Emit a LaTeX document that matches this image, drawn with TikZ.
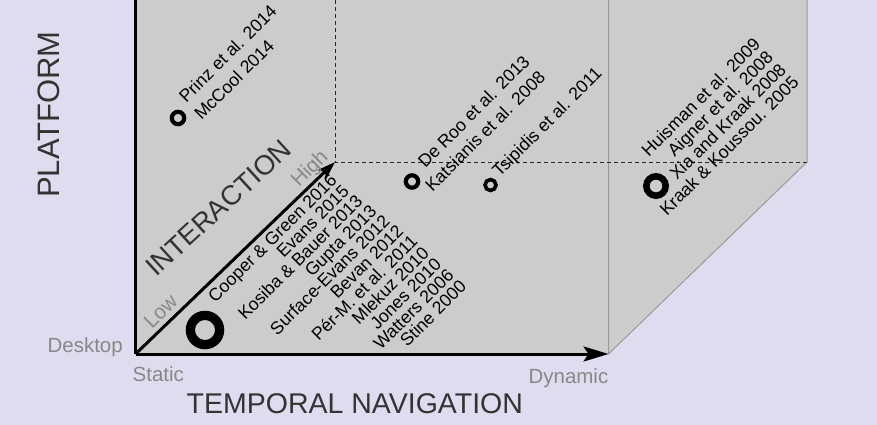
\documentclass[tikz,border=0pt]{standalone}
\usepackage{fontspec}
\setmainfont{Liberation Sans}
\usetikzlibrary{arrows.meta}
\definecolor{bg}{HTML}{DFDCF0}
\definecolor{cubefill}{HTML}{CCCCCC}
\definecolor{edgegray}{HTML}{9A9A9A}
\definecolor{lightlbl}{HTML}{888888}
\definecolor{darklbl}{HTML}{333333}
\begin{document}
\begin{tikzpicture}[x=1pt,y=-1pt,
  ref/.style={inner sep=0pt, rotate=45, font=\fontsize{17.7}{17.7}\selectfont, text=black},
  axislbl/.style={inner sep=0pt, text=darklbl, font=\fontsize{28}{28}\selectfont},
  endlbl/.style={inner sep=0pt, text=lightlbl, font=\fontsize{20.5}{20.5}\selectfont},
  axisline/.style={line width=3pt, black},
  ring/.style={draw=black},
  edgeline/.style={draw=edgegray, line width=1pt},
  guide/.style={draw=black!85, line width=0.8pt, dash pattern=on 4pt off 3pt}]
\useasboundingbox (0,0) rectangle (877,425);
\fill[bg] (0,0) rectangle (877,425);
% frame coordinates
\coordinate (O) at (135.5,354);
\coordinate (TT) at (135.5,0);
\coordinate (Dyn) at (608.5,354);
\coordinate (DynTop) at (608.5,0);
\coordinate (Hi) at (335,162);
\coordinate (HiTop) at (335,0);
\coordinate (HiR) at (807,162);
\coordinate (TopR) at (807,0);
\fill[cubefill] (TT) -- (TopR) -- (HiR) -- (Dyn) -- (O) -- cycle;
\draw[edgeline] (TopR) -- (HiR) -- (Dyn) -- (DynTop);
\draw[guide] (HiTop) -- (Hi) -- (HiR);
\draw[axisline] (TT) -- (O);
\draw[axisline, -{Stealth[length=25pt, width=15pt, inset=5pt]}] (O) -- (Dyn);
\draw[axisline, -{Stealth[length=18pt, width=12pt, inset=4pt]}] (O) -- (Hi);
% axis labels
\node[axislbl, rotate=90, anchor=base west, font=\fontsize{31}{31}\selectfont] (platform) at (59.5,198) {PLATFORM};
\node[axislbl, anchor=base west, font=\fontsize{28.5}{28.5}\selectfont] (temporal) at (186.5,413.5) {TEMPORAL NAVIGATION};
\node[axislbl, rotate=42.5, anchor=base west, font=\fontsize{27.5}{27.5}\selectfont] (interaction) at (156,278) {INTERACTION};
\node[endlbl, anchor=base east] (desktop) at (123,352) {Desktop};
\node[endlbl, anchor=base west] (static) at (132.5,381.5) {Static};
\node[endlbl, anchor=base east] (dynamic) at (608.5,383.3) {Dynamic};
\node[endlbl, rotate=45, anchor=base west] (low) at (152,330) {Low};
\node[endlbl, rotate=45, anchor=base west] (high) at (299,188) {High};
% circles
\draw[ring, line width=9.3pt] (205,330) circle[radius=14.6] coordinate (c0);
\draw[ring, line width=6.5pt] (656,186) circle[radius=9.7] coordinate (c1);
\draw[ring, line width=4.2pt] (178,118) circle[radius=6.2] coordinate (c2);
\draw[ring, line width=4.2pt] (412,181.5) circle[radius=6.2] coordinate (c3);
\draw[ring, line width=3.6pt] (490.5,185) circle[radius=5.5] coordinate (c4);
% Prinz block
\node[ref, anchor=base west] (p1) at (186.2,104.0) {Prinz et al. 2014};
\node[ref, anchor=base west] (p2) at (201.4,121.0) {McCool 2014};
% De Roo block
\node[ref, anchor=base east] (d1) at (531.0,62.9) {De Roo et al. 2013};
\node[ref, anchor=base east] (d2) at (546.6,78.5) {Katsianis et al. 2008};
\node[ref, anchor=base west] (d3) at (499.5,178.0) {Tsipidis et al. 2011};
% Huisman block
\node[ref, anchor=base east] (h1) at (761.5,45.3) {Huisman et al. 2009};
\node[ref, anchor=base east] (h2) at (774.3,58.1) {Aigner et al. 2008};
\node[ref, anchor=base east] (h3) at (787.2,70.9) {Xia and Kraak 2008};
\node[ref, anchor=base east] (h4) at (800.0,83.7) {Kraak \& Koussou. 2005};
% Cooper block
\node[ref, anchor=base east] (k1) at (338.0,181.0) {Cooper \& Green 2016};
\node[ref, anchor=base east] (k2) at (350.2,192.5) {Evans 2015};
\node[ref, anchor=base east] (k3) at (363.7,202.5) {Kosiba \& Bauer 2013};
\node[ref, anchor=base east] (k4) at (377.7,212.2) {Gupta 2013};
\node[ref, anchor=base east] (k5) at (390.9,222.6) {Surface-Evans 2012};
\node[ref, anchor=base east] (k6) at (404.5,232.6) {Bevan 2012};
\node[ref, anchor=base east] (k7) at (418.7,242.0) {Pér-M. et al. 2011};
\node[ref, anchor=base east] (k8) at (430.2,254.1) {Mlekuz 2010};
\node[ref, anchor=base east] (k9) at (442.4,265.6) {Jones 2010};
\node[ref, anchor=base east] (k10) at (454.9,276.7) {Watters 2006};
\node[ref, anchor=base east] (k11) at (467.4,287.8) {Stine 2000};
\end{tikzpicture}
\end{document}
